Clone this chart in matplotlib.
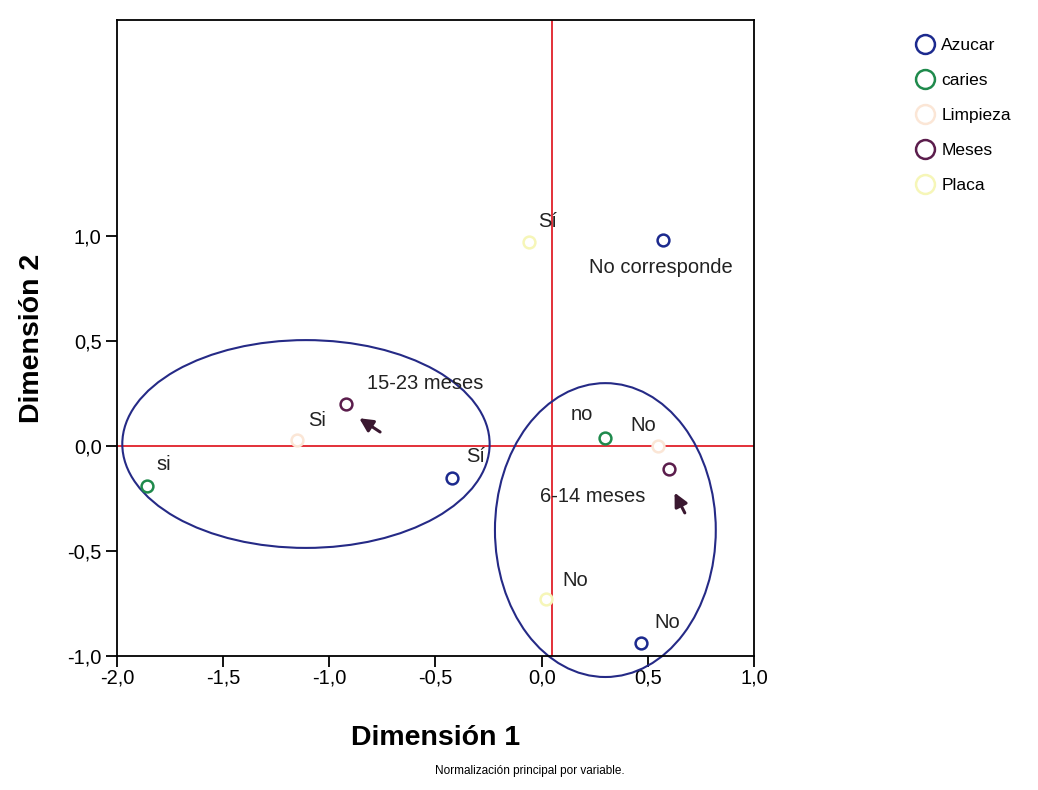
import matplotlib.pyplot as plt
from matplotlib.patches import Ellipse

plt.rcParams['font.family'] = ['Liberation Sans', 'DejaVu Sans']

# category points (Dimension 1, Dimension 2)
azucar_x = [0.57, -0.42, 0.47]
azucar_y = [0.98, -0.15, -0.94]
caries_x = [-1.86, 0.30]
caries_y = [-0.19, 0.04]
limpieza_x = [-1.15, 0.55]
limpieza_y = [0.03, 0.00]
meses_x = [-0.92, 0.60]
meses_y = [0.20, -0.11]
placa_x = [-0.06, 0.02]
placa_y = [0.97, -0.73]

series = [
    ('Azucar', azucar_x, azucar_y, '#1c2a8e'),
    ('caries', caries_x, caries_y, '#1f8a4c'),
    ('Limpieza', limpieza_x, limpieza_y, '#fbe6d6'),
    ('Meses', meses_x, meses_y, '#5b1d4c'),
    ('Placa', placa_x, placa_y, '#f6f6b8'),
]

# point labels: text, x, y
labels = [
    ('No corresponde', 0.56, 0.85),
    ('15-23 meses', -0.55, 0.30),
    ('Si', -1.06, 0.12),
    ('si', -1.78, -0.09),
    ('Sí', -0.31, -0.05),
    ('no', 0.19, 0.15),
    ('No', 0.48, 0.10),
    ('6-14 meses', 0.24, -0.24),
    ('No', 0.16, -0.64),
    ('No', 0.59, -0.84),
    ('Sí', 0.03, 1.07),
]

fig = plt.figure(figsize=(10.38, 7.90), dpi=100)
ax = fig.add_axes([0.1127, 0.1696, 0.6137, 0.8051])

ax.axhline(0, color='#e0202a', lw=1.3, zorder=1)
ax.axvline(0.05, color='#e0202a', lw=1.3, zorder=1)

for name, xs, ys, col in series:
    ax.plot(xs, ys, 'o', mfc='white', mec=col, mew=1.8, ms=8.5, label=name, zorder=3)

for txt, x, y in labels:
    ax.text(x, y, txt, ha='center', va='center', fontsize=14.5, color='#222222', zorder=4)

ax.add_patch(Ellipse((-1.11, 0.01), 1.73, 0.99, fill=False, ec='#252a86', lw=1.5, zorder=2))
ax.add_patch(Ellipse((0.30, -0.40), 1.04, 1.40, fill=False, ec='#252a86', lw=1.5, zorder=2,
                     clip_on=False))

arrow = dict(arrowstyle='-|>', color='#3a1830', lw=2.2, mutation_scale=20)
ax.annotate('', xy=(-0.87, 0.14), xytext=(-0.75, 0.06), arrowprops=arrow)
ax.annotate('', xy=(0.62, -0.21), xytext=(0.68, -0.33), arrowprops=arrow)

ax.set_xlim(-2.0, 1.0)
ax.set_ylim(-1.0, 2.03)
ax.set_xticks([-2.0, -1.5, -1.0, -0.5, 0.0, 0.5, 1.0])
ax.set_xticklabels(['-2,0', '-1,5', '-1,0', '-0,5', '0,0', '0,5', '1,0'])
ax.set_yticks([-1.0, -0.5, 0.0, 0.5, 1.0])
ax.set_yticklabels(['-1,0', '-0,5', '0,0', '0,5', '1,0'])
ax.tick_params(direction='out', length=8, width=1.3, labelsize=14.5)
ax.tick_params(axis='x', pad=1)
ax.tick_params(axis='y', pad=3)
for s in ax.spines.values():
    s.set_linewidth(1.3)

ax.set_xlabel('Dimensión 1', fontsize=20.5, fontweight='bold', labelpad=27)
ax.set_ylabel('Dimensión 2', fontsize=20.5, fontweight='bold', labelpad=16)

fig.text(0.51, 0.02, 'Normalización principal por variable.', ha='center', fontsize=8.5)

fig.legend(loc='upper left', bbox_to_anchor=(0.866, 0.972), frameon=False, fontsize=12.5,
           markerscale=1.6, handletextpad=0.35, labelspacing=1.15, handlelength=1.2)

fig.savefig('out.png', dpi=100)
